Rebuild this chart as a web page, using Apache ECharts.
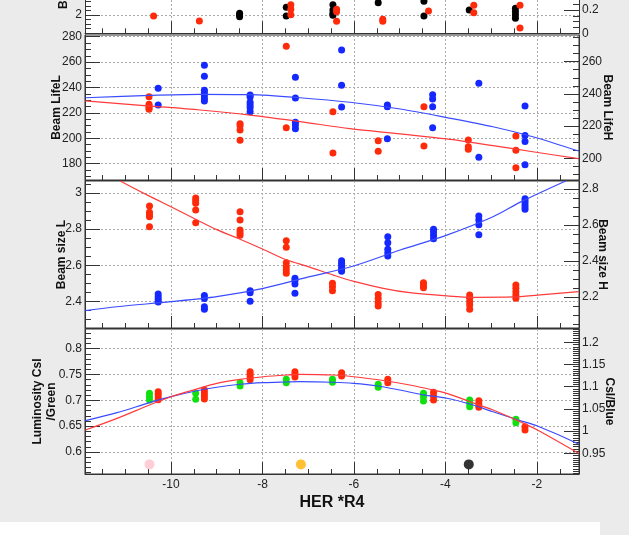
<!DOCTYPE html>
<html>
<head>
<meta charset="utf-8">
<script src="https://cdn.jsdelivr.net/npm/echarts@6/dist/echarts.min.js"></script>
<style>
  html, body { margin: 0; padding: 0; background: #ebebeb; }
  #chart { width: 629px; height: 535px; }
</style>
</head>
<body>
<div id="chart"></div>
<script>
// tick labels
const xTicks = [-10, -8, -6, -4, -2];
const topLTicks = [2];
const topRTicks = [0, 0.2];
const lifeLTicks = [180, 200, 220, 240, 260, 280];
const lifeHTicks = [200, 220, 240, 260];
const sizeLTicks = [2.4, 2.6, 2.8, 3];
const sizeHTicks = [2.2, 2.4, 2.6, 2.8];
const lumGreenTicks = [0.6, 0.65, 0.7, 0.75, 0.8];
const lumBlueTicks = [0.95, 1, 1.05, 1.1, 1.15, 1.2];

// top panel (only its lower edge is visible)
const topBlack = [[-8.5, 2.037], [-8.5, 2.0], [-8.5, 1.963], [-7.48, 2.168], [-7.48, 1.978],
  [-6.46, 2.225], [-6.46, 2.109], [-6.46, 2.037], [-6.46, 1.993], [-5.47, 2.269],
  [-4.47, 1.978], [-4.47, 2.299], [-3.48, 2.109], [-2.47, 2.146], [-2.47, 2.072],
  [-2.47, 2.0], [-2.47, 1.928]];
const topRed = [[-10.38, 0.149], [-9.38, 0.106], [-7.38, 0.246], [-7.38, 0.206], [-7.38, 0.16],
  [-6.38, 0.206], [-6.38, 0.185], [-6.38, 0.103], [-5.37, 0.12], [-5.37, 0.103],
  [-4.37, 0.191], [-3.38, 0.24], [-3.38, 0.177], [-2.37, 0.24], [-2.37, 0.046]];

// beam lifetime
const lifeRed = [[-10.48, 232.8], [-10.48, 226.8], [-10.48, 225.4], [-10.48, 224.1], [-10.48, 222.8],
  [-8.49, 211.5], [-8.49, 209.9], [-8.49, 206.5], [-8.49, 198.4], [-7.48, 272.4], [-7.48, 208.3],
  [-6.46, 220.9], [-6.46, 188.4], [-5.47, 198.1], [-5.47, 189.8], [-4.47, 224.9], [-4.47, 193.9],
  [-3.5, 198.7], [-3.5, 193.4], [-3.5, 191.3], [-2.46, 201.8], [-2.46, 190.6], [-2.46, 176.9]];
const lifeBlue = [[-10.28, 243.5], [-10.28, 233.1], [-9.27, 257.8], [-9.27, 250.9], [-9.27, 242.2],
  [-9.27, 240.6], [-9.27, 238.9], [-9.27, 237.0], [-9.27, 235.6], [-8.27, 239.3], [-8.27, 238.1],
  [-8.27, 234.8], [-8.27, 233.1], [-8.27, 231.4], [-8.27, 228.9], [-7.28, 250.3], [-7.28, 237.5],
  [-7.28, 222.4], [-7.28, 220.7], [-7.28, 218.4], [-6.27, 267.3], [-6.27, 245.3], [-6.27, 231.9],
  [-5.27, 233.1], [-5.27, 232.0], [-5.27, 212.2], [-4.28, 239.5], [-4.28, 236.8], [-4.28, 232.0],
  [-4.28, 219.0], [-3.27, 246.6], [-3.27, 200.6], [-2.26, 232.5], [-2.26, 214.2], [-2.26, 210.4],
  [-2.26, 196.0]];
const lifeRedFit = [[-11.87, 229.4], [-10.45, 225.4], [-9.36, 222.3], [-8.27, 218.3], [-7.18, 213.2],
  [-6.09, 207.6], [-4.99, 203.5], [-3.97, 199.5], [-2.96, 194.2], [-2.09, 189.4], [-1.09, 184.0]];
const lifeBlueFit = [[-11.87, 237.6], [-10.45, 239.1], [-9.36, 239.7], [-8.27, 239.5], [-7.18, 237.6],
  [-6.09, 234.8], [-4.99, 230.6], [-3.97, 225.3], [-2.96, 219.6], [-2.09, 213.4], [-1.09, 204.5]];

// beam size
const sizeRed = [[-10.47, 2.928], [-10.47, 2.893], [-10.47, 2.878], [-10.47, 2.869], [-10.47, 2.813],
  [-9.46, 2.972], [-9.46, 2.957], [-9.46, 2.943], [-9.46, 2.906], [-9.46, 2.835],
  [-8.49, 2.896], [-8.49, 2.85], [-8.49, 2.795], [-8.49, 2.78], [-8.49, 2.766],
  [-7.48, 2.736], [-7.48, 2.699], [-7.48, 2.614], [-7.48, 2.592], [-7.48, 2.573], [-7.48, 2.555],
  [-6.47, 2.5], [-6.47, 2.481], [-6.47, 2.459], [-5.47, 2.437], [-5.47, 2.415], [-5.47, 2.392],
  [-5.47, 2.374], [-4.48, 2.503], [-4.48, 2.489], [-4.48, 2.475], [-3.47, 2.435], [-3.47, 2.417],
  [-3.47, 2.398], [-3.47, 2.38], [-3.47, 2.356], [-2.46, 2.49], [-2.46, 2.472], [-2.46, 2.453],
  [-2.46, 2.435], [-2.46, 2.417]];
const sizeBlue = [[-10.28, 2.217], [-10.28, 2.202], [-10.28, 2.187], [-10.28, 2.172],
  [-9.27, 2.209], [-9.27, 2.191], [-9.27, 2.146], [-9.27, 2.132], [-8.27, 2.235], [-8.27, 2.224],
  [-8.27, 2.176], [-7.29, 2.304], [-7.29, 2.291], [-7.29, 2.272], [-7.29, 2.221],
  [-6.27, 2.402], [-6.27, 2.387], [-6.27, 2.372], [-6.27, 2.357], [-6.27, 2.343],
  [-5.26, 2.535], [-5.26, 2.502], [-5.26, 2.465], [-5.26, 2.446], [-5.26, 2.428],
  [-4.26, 2.576], [-4.26, 2.561], [-4.26, 2.543], [-4.26, 2.524], [-3.27, 2.65], [-3.27, 2.628],
  [-3.27, 2.602], [-3.27, 2.546], [-2.26, 2.746], [-2.26, 2.732], [-2.26, 2.717], [-2.26, 2.702],
  [-2.26, 2.687]];
const sizeRedFit = [[-11.11, 3.066], [-10.45, 2.98], [-10, 2.924], [-9.46, 2.855], [-9, 2.797],
  [-8.49, 2.744], [-8, 2.69], [-7.48, 2.63], [-7, 2.592], [-6.45, 2.545], [-6, 2.51], [-5.36, 2.472],
  [-4.78, 2.448], [-3.97, 2.43], [-3.39, 2.422], [-2.52, 2.424], [-1.99, 2.434], [-1.09, 2.454]];
const sizeBlueFit = [[-11.87, 2.124], [-11.18, 2.146], [-10, 2.174], [-9, 2.202], [-7.98, 2.248],
  [-7.03, 2.309], [-6.01, 2.372], [-4.99, 2.461], [-3.97, 2.544], [-2.96, 2.646], [-2.34, 2.73],
  [-1.36, 2.846]];

// luminosity
const lumGreen = [[-10.47, 0.7136], [-10.47, 0.7071], [-10.47, 0.7007], [-9.46, 0.7136], [-9.46, 0.702],
  [-8.49, 0.7342], [-8.49, 0.7278], [-7.48, 0.7408], [-7.48, 0.7342], [-6.47, 0.7408], [-6.47, 0.735],
  [-5.47, 0.7311], [-5.47, 0.7253], [-4.48, 0.7136], [-4.48, 0.7071], [-4.48, 0.6987],
  [-3.47, 0.7007], [-3.47, 0.6943], [-3.47, 0.6878], [-2.46, 0.6633], [-2.46, 0.6567]];
const lumRed = [[-10.28, 1.0887], [-10.28, 1.0829], [-10.28, 1.0768], [-10.28, 1.0707],
  [-9.27, 1.0926], [-9.27, 1.0858], [-9.27, 1.0791], [-9.27, 1.0723], [-8.27, 1.1338], [-8.27, 1.1279],
  [-8.27, 1.1218], [-8.27, 1.1158], [-7.29, 1.1338], [-7.29, 1.1279], [-7.29, 1.1218],
  [-6.27, 1.1315], [-6.27, 1.1241], [-5.26, 1.1167], [-5.26, 1.109], [-4.26, 1.0874], [-4.26, 1.0791],
  [-4.26, 1.07], [-3.27, 1.0685], [-3.27, 1.061], [-3.27, 1.0536], [-2.26, 1.0099], [-2.26, 1.0025]];
const lumRefs = [[-10.47, 0.576], [-7.16, 0.576], [-3.49, 0.576]];
const lumBlueFit = [[-11.87, 0.6606], [-11.18, 0.6761], [-10.47, 0.6955], [-10, 0.7071], [-9.46, 0.7181],
  [-9, 0.7253], [-8.49, 0.7311], [-7.98, 0.7342], [-7.47, 0.7355], [-7.18, 0.7361], [-6.45, 0.735],
  [-6.01, 0.733], [-5.47, 0.7278], [-5.0, 0.72], [-4.48, 0.7104], [-3.97, 0.704], [-3.47, 0.6929],
  [-2.96, 0.678], [-2.46, 0.6633], [-1.99, 0.6503], [-1.09, 0.6155]];
const lumRedFit = [[-11.87, 1.0025], [-11.18, 1.0288], [-10.47, 1.0588], [-10, 1.0775], [-9.46, 1.0941],
  [-9, 1.1077], [-8.49, 1.1167], [-7.98, 1.1225], [-7.47, 1.1264], [-7.18, 1.1279], [-6.45, 1.1264],
  [-6.01, 1.1225], [-5.43, 1.1151], [-4.78, 1.1038], [-4.27, 1.0926], [-3.97, 1.0851], [-3.46, 1.0662],
  [-2.96, 1.0475], [-2.45, 1.025], [-1.99, 1.0025], [-1.09, 0.95]];

const X_MIN = -11.88, X_MAX = -1.08;
const FONT = "'Liberation Sans', Arial, sans-serif";
const AX = '#333';
const RED = '#ff2a0a', BLUE = '#1428ff', GREEN = '#10e010';

const chart = echarts.init(document.getElementById('chart'));

// minor tick positions inside an axis range
const between = (min, max, step) => {
  const out = [];
  for (let k = Math.ceil(min / step - 1e-9); k * step <= max + 1e-9; k++) {
    out.push(+(k * step).toFixed(6));
  }
  return out;
};

const grids = [
  { top: 0, height: 33.3, borderWidth: 0 },
  { top: 35, height: 145 },
  { top: 181, height: 147 },
  { top: 329, height: 145 }
].map(g => ({
  left: 85, width: 494, show: true, backgroundColor: '#fff', borderColor: AX, borderWidth: 1,
  outerBoundsMode: 'none', containLabel: false, ...g
}));

const xAxis = [];
grids.forEach((g, i) => {
  xAxis.push({
    type: 'value', gridIndex: i, min: X_MIN, max: X_MAX, position: 'bottom',
    axisLine: { show: true, onZero: false, lineStyle: { color: AX } },
    axisTick: { inside: true, length: 12, customValues: xTicks, lineStyle: { color: AX } },
    axisLabel: { show: i === 3, customValues: xTicks, margin: 5, fontSize: 12, fontFamily: FONT, color: '#222' },
    splitLine: { show: true, lineStyle: { type: [2, 2], color: '#aaa' } },
    name: i === 3 ? 'HER *R4' : '', nameLocation: 'middle', nameGap: 21, nameMoveOverlap: false,
    nameTextStyle: { fontSize: 16, fontWeight: 'bold', fontFamily: FONT, color: '#111' }
  });
  xAxis.push({
    type: 'value', gridIndex: i, min: X_MIN, max: X_MAX, position: 'bottom',
    axisLine: { show: false, onZero: false },
    axisTick: { inside: true, length: 5, customValues: between(X_MIN, X_MAX, 0.5), lineStyle: { color: AX } },
    axisLabel: { show: false }, splitLine: { show: false }
  });
});

// left/right axis pair settings per panel: [min, max, ticks, minor step, name, gap, extra name padding]
const yDefs = [
  { l: [1.6, 2.3279, topLTicks, 0.1, 'Beam', 14, 48], r: [0, 0.2858, topRTicks, 0.05, '', 20, 0] },
  { l: [167.17, 281.34, lifeLTicks, 5, 'Beam LifeL', 21, 0], r: [186.52, 276.58, lifeHTicks, 5, 'Beam LifeH', 21, 0] },
  { l: [2.252, 3.0665, sizeLTicks, 0.05, 'Beam size L', 16, 0], r: [2.0278, 2.8444, sizeHTicks, 0.05, 'Beam size H', 16, 0] },
  { l: [0.5574, 0.8381, lumGreenTicks, 0.01, 'Luminosity CsI\n/Green', 26, 0], r: [0.9034, 1.23, lumBlueTicks, 0.005, 'CsI/Blue', 23, 0] }
];

const yAxis = [];
yDefs.forEach((d, i) => {
  [['left', d.l], ['right', d.r]].forEach(([pos, [min, max, ticks, minor, name, gap, pad]]) => {
    yAxis.push({
      type: 'value', gridIndex: i, position: pos, min, max,
      axisLine: { show: true, onZero: false, lineStyle: { color: AX } },
      axisTick: { inside: true, length: 15, customValues: ticks, lineStyle: { color: AX } },
      axisLabel: { customValues: ticks, margin: 3, fontSize: 12, fontFamily: FONT, color: '#222' },
      splitLine: { show: pos === 'left', lineStyle: { type: [2, 2], color: '#aaa' } },
      name, nameLocation: 'middle', nameGap: gap, nameMoveOverlap: false,
      nameRotate: pos === 'left' ? 90 : -90,
      nameTextStyle: { fontSize: 12, fontWeight: 'bold', fontFamily: FONT, color: '#111', lineHeight: 14, padding: [0, 0, 0, pad] }
    });
    yAxis.push({
      type: 'value', gridIndex: i, position: pos, min, max,
      axisLine: { show: false, onZero: false },
      axisTick: { inside: true, length: 6, customValues: between(min, max, minor), lineStyle: { color: AX } },
      axisLabel: { show: false }, splitLine: { show: false }
    });
  });
});

// y axis index: panel*4 + (0 left, 2 right)
const dots = (data, color, g, side, size) => ({
  type: 'scatter', data, xAxisIndex: g * 2, yAxisIndex: g * 4 + side,
  symbolSize: size || 7, itemStyle: { color, opacity: 1 }, silent: true
});
const fit = (data, color, g, side) => ({
  type: 'line', data, xAxisIndex: g * 2, yAxisIndex: g * 4 + side,
  showSymbol: false, smooth: 0.3, lineStyle: { color, width: 1.2 }, silent: true
});
const refColors = ['#ffc0cb', '#ffb000', '#000'];

chart.setOption({
  animation: false,
  grid: grids,
  xAxis,
  yAxis,
  graphic: [{ type: 'rect', left: 0, top: 522, shape: { width: 600, height: 13 }, style: { fill: '#fff' }, z: -10 }],
  series: [
    dots(topBlack, '#000', 0, 0),
    dots(topRed, RED, 0, 2),
    dots(lifeRed, RED, 1, 0),
    dots(lifeBlue, BLUE, 1, 2),
    fit(lifeRedFit, '#ff3b3b', 1, 0),
    fit(lifeBlueFit, '#3a4cff', 1, 2),
    dots(sizeRed, RED, 2, 0),
    dots(sizeBlue, BLUE, 2, 2),
    fit(sizeRedFit, '#ff3b3b', 2, 0),
    fit(sizeBlueFit, '#3a4cff', 2, 2),
    dots(lumGreen, GREEN, 3, 0),
    dots(lumRed, RED, 3, 2),
    fit(lumBlueFit, '#3a4cff', 3, 0),
    fit(lumRedFit, '#ff3b3b', 3, 2),
    {
      type: 'scatter', xAxisIndex: 6, yAxisIndex: 12, symbolSize: 10, silent: true,
      data: lumRefs.map((p, i) => ({ value: p, itemStyle: { color: refColors[i] } }))
    }
  ]
});
</script>
</body>
</html>
